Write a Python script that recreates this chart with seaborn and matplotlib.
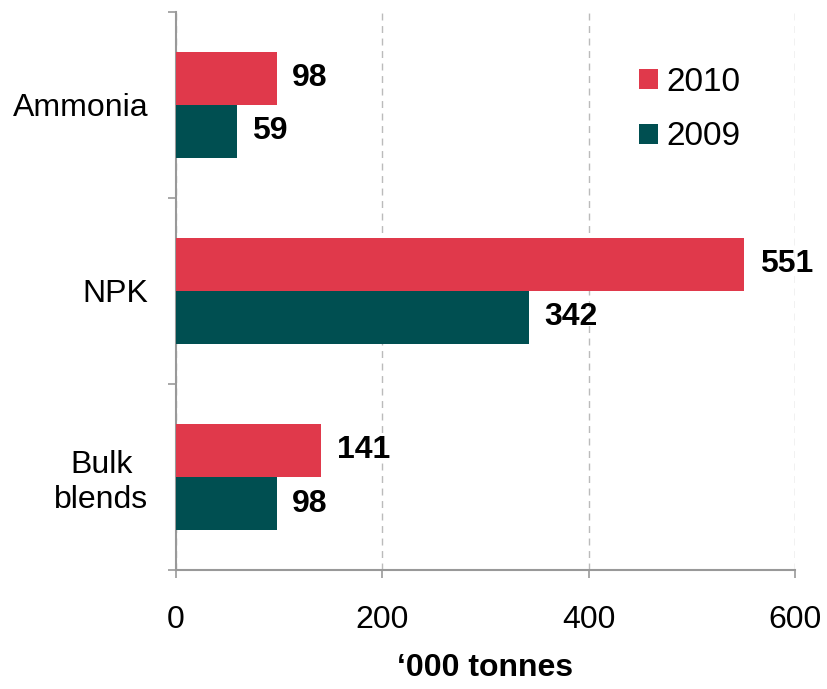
import pandas as pd
import seaborn as sns
import matplotlib.pyplot as plt

# 데이터
products = ['Ammonia', 'NPK', 'Bulk blends']
tick_labels = ['Ammonia', 'NPK', 'Bulk\nblends']
years = ['2010', '2009']
values_2010 = [98, 551, 141]
values_2009 = [59, 342, 98]

df = pd.DataFrame({
    'product': products * 2,
    'year': ['2010'] * 3 + ['2009'] * 3,
    'value': values_2010 + values_2009,
})

sns.set_style('white')
plt.rcParams['font.family'] = ['Liberation Sans', 'DejaVu Sans']
plt.rcParams['text.color'] = 'black'
plt.rcParams['xtick.labelcolor'] = 'black'
plt.rcParams['ytick.labelcolor'] = 'black'
plt.rcParams['axes.labelcolor'] = 'black'

fig = plt.figure(figsize=(8.27, 6.89), dpi=100)
ax = fig.add_axes([0.2128, 0.1727, 0.7485, 0.81])

colors = {'2010': '#E0394B', '2009': '#004F51'}
sns.barplot(data=df, y='product', x='value', hue='year', hue_order=years,
            order=products, palette=colors, orient='h', width=0.57,
            saturation=1, linewidth=0, ax=ax, zorder=3)

for c in ax.containers:
    ax.bar_label(c, fmt='%d', padding=11, fontsize=23, fontweight='bold')

ax.set_xlim(0, 600)
ax.set_ylim(2.5, -0.5)
ax.set_xticks([0, 200, 400, 600])
ax.tick_params(axis='x', bottom=True, labelsize=23, length=6, width=1.2,
               color='#999999', pad=19)
ax.set_yticks(range(3))
ax.set_yticklabels(tick_labels)
ax.tick_params(axis='y', which='major', left=True, length=0, labelsize=23, pad=20)
for t in ax.get_yticklabels():
    t.set_multialignment('center')
ax.set_yticks([-0.5, 0.5, 1.5, 2.5], minor=True)
ax.tick_params(axis='y', which='minor', left=True, length=6, width=1.2,
               color='#999999')

ax.xaxis.grid(True, linestyle=(0, (5, 4)), color='#BBBBBB', linewidth=1, zorder=0)
ax.yaxis.grid(False)
for s in ['top', 'right']:
    ax.spines[s].set_visible(False)
for s in ['left', 'bottom']:
    ax.spines[s].set_color('#999999')
    ax.spines[s].set_linewidth(1.5)

ax.set_xlabel("\u2018000 tonnes", fontsize=23, fontweight='bold', labelpad=13)
ax.set_ylabel('')

ax.legend(loc='upper right', bbox_to_anchor=(0.96, 0.955), frameon=False,
          fontsize=24, handlelength=0.55, handleheight=0.55, handletextpad=0.25,
          labelspacing=0.7)

fig.savefig('out.png', dpi=100)
